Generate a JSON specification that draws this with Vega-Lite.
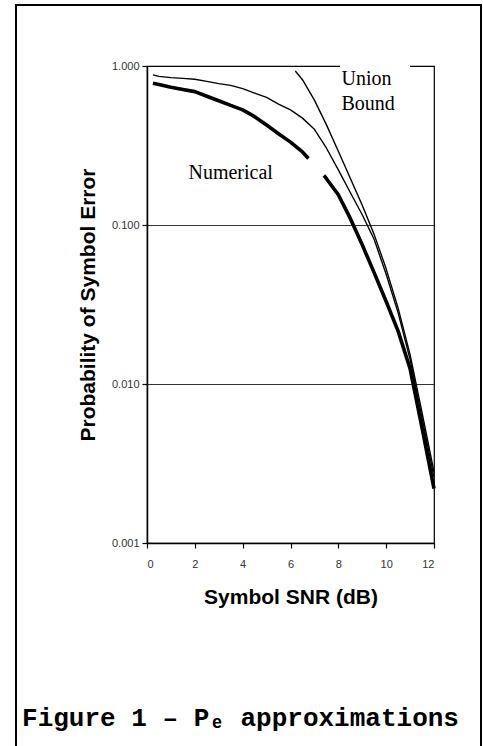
{
  "$schema": "https://vega.github.io/schema/vega-lite/v6.json",
  "autosize": {"type": "none"},
  "width": 287,
  "height": 477,
  "padding": {"left": 147, "top": 66, "right": 49, "bottom": 203},
  "background": "white",
  "title": {
    "text": "Figure 1 – Pₑ approximations",
    "orient": "bottom",
    "anchor": "middle",
    "frame": "group",
    "dx": -50,
    "offset": -46,
    "font": "Liberation Mono",
    "fontSize": 26,
    "fontWeight": "bold",
    "color": "black"
  },
  "config": {
    "view": {"stroke": "black", "strokeWidth": 1.2},
    "font": "Liberation Sans",
    "axis": {
      "labelFont": "Liberation Sans",
      "labelFontSize": 11,
      "labelColor": "#333",
      "titleFont": "Liberation Sans",
      "titleFontWeight": "bold",
      "titleColor": "black",
      "domainColor": "black",
      "domainWidth": 1.5,
      "tickColor": "black",
      "tickSize": 5,
      "tickWidth": 1.2
    }
  },
  "datasets": {
    "curves": [
      {"snr": 0.25, "pe": 0.78, "series": "Numerical"},
      {"snr": 0.5, "pe": 0.765, "series": "Numerical"},
      {"snr": 1.0, "pe": 0.735, "series": "Numerical"},
      {"snr": 1.5, "pe": 0.712, "series": "Numerical"},
      {"snr": 2.0, "pe": 0.69, "series": "Numerical"},
      {"snr": 2.5, "pe": 0.645, "series": "Numerical"},
      {"snr": 3.0, "pe": 0.605, "series": "Numerical"},
      {"snr": 3.5, "pe": 0.565, "series": "Numerical"},
      {"snr": 4.0, "pe": 0.53, "series": "Numerical"},
      {"snr": 4.5, "pe": 0.48, "series": "Numerical"},
      {"snr": 5.0, "pe": 0.425, "series": "Numerical"},
      {"snr": 5.5, "pe": 0.375, "series": "Numerical"},
      {"snr": 6.0, "pe": 0.332, "series": "Numerical"},
      {"snr": 6.5, "pe": 0.288, "series": "Numerical"},
      {"snr": 6.75, "pe": 0.262, "series": "Numerical"},
      {"snr": 7.0, "pe": null, "series": "Numerical"},
      {"snr": 7.4, "pe": 0.205, "series": "Numerical"},
      {"snr": 8.0, "pe": 0.155, "series": "Numerical"},
      {"snr": 8.5, "pe": 0.11, "series": "Numerical"},
      {"snr": 9.0, "pe": 0.075, "series": "Numerical"},
      {"snr": 9.5, "pe": 0.05, "series": "Numerical"},
      {"snr": 10.0, "pe": 0.033, "series": "Numerical"},
      {"snr": 10.5, "pe": 0.0215, "series": "Numerical"},
      {"snr": 11.0, "pe": 0.0125, "series": "Numerical"},
      {"snr": 11.5, "pe": 0.0053, "series": "Numerical"},
      {"snr": 12.0, "pe": 0.0022, "series": "Numerical"},

      {"snr": 0.25, "pe": 0.88, "series": "Approximation"},
      {"snr": 0.5, "pe": 0.86, "series": "Approximation"},
      {"snr": 1.0, "pe": 0.845, "series": "Approximation"},
      {"snr": 1.5, "pe": 0.836, "series": "Approximation"},
      {"snr": 2.0, "pe": 0.825, "series": "Approximation"},
      {"snr": 2.5, "pe": 0.8, "series": "Approximation"},
      {"snr": 3.0, "pe": 0.775, "series": "Approximation"},
      {"snr": 3.5, "pe": 0.755, "series": "Approximation"},
      {"snr": 4.0, "pe": 0.72, "series": "Approximation"},
      {"snr": 4.5, "pe": 0.675, "series": "Approximation"},
      {"snr": 5.0, "pe": 0.635, "series": "Approximation"},
      {"snr": 5.5, "pe": 0.575, "series": "Approximation"},
      {"snr": 6.0, "pe": 0.53, "series": "Approximation"},
      {"snr": 6.5, "pe": 0.47, "series": "Approximation"},
      {"snr": 7.0, "pe": 0.4, "series": "Approximation"},
      {"snr": 7.5, "pe": 0.305, "series": "Approximation"},
      {"snr": 8.0, "pe": 0.222, "series": "Approximation"},
      {"snr": 8.5, "pe": 0.16, "series": "Approximation"},
      {"snr": 9.0, "pe": 0.116, "series": "Approximation"},
      {"snr": 9.5, "pe": 0.081, "series": "Approximation"},
      {"snr": 10.0, "pe": 0.049, "series": "Approximation"},
      {"snr": 10.5, "pe": 0.028, "series": "Approximation"},
      {"snr": 11.0, "pe": 0.0143, "series": "Approximation"},
      {"snr": 11.5, "pe": 0.0061, "series": "Approximation"},
      {"snr": 12.0, "pe": 0.0026, "series": "Approximation"},

      {"snr": 6.2, "pe": 0.93, "series": "Union Bound"},
      {"snr": 6.5, "pe": 0.82, "series": "Union Bound"},
      {"snr": 7.0, "pe": 0.61, "series": "Union Bound"},
      {"snr": 7.5, "pe": 0.428, "series": "Union Bound"},
      {"snr": 8.0, "pe": 0.291, "series": "Union Bound"},
      {"snr": 8.5, "pe": 0.197, "series": "Union Bound"},
      {"snr": 9.0, "pe": 0.133, "series": "Union Bound"},
      {"snr": 9.5, "pe": 0.087, "series": "Union Bound"},
      {"snr": 10.0, "pe": 0.053, "series": "Union Bound"},
      {"snr": 10.5, "pe": 0.03, "series": "Union Bound"},
      {"snr": 11.0, "pe": 0.0153, "series": "Union Bound"},
      {"snr": 11.5, "pe": 0.0066, "series": "Union Bound"},
      {"snr": 12.0, "pe": 0.0028, "series": "Union Bound"}
    ],
    "labels": [
      {"snr": 1.735, "pe": 0.1946, "text": ["Numerical"]},
      {"snr": 8.13, "pe": 0.76, "text": ["Union", "Bound"]}
    ]
  },
  "layer": [
    {
      "description": "outer figure frame",
      "data": {"values": [{"x0": -5.477, "x1": 13.965, "y0": 2.419, "y1": 0.00005}]},
      "mark": {"type": "rect", "fill": null, "stroke": "black", "strokeWidth": 2, "clip": false},
      "encoding": {
        "x": {"field": "x0", "type": "quantitative", "scale": {"domain": [0, 12], "nice": false, "zero": false}},
        "x2": {"field": "x1"},
        "y": {"field": "y0", "type": "quantitative", "scale": {"type": "log", "domain": [0.001, 1], "nice": false}},
        "y2": {"field": "y1"}
      }
    },
    {
      "data": {"name": "curves"},
      "mark": {"type": "line", "invalid": "break-paths-filter-domains", "strokeJoin": "round", "strokeCap": "butt"},
      "encoding": {
        "x": {
          "field": "snr", "type": "quantitative",
          "scale": {"domain": [0, 12], "nice": false, "zero": false},
          "axis": {
            "title": "Symbol SNR (dB)",
            "values": [0, 2, 4, 6, 8, 10, 12],
            "grid": false,
            "titleFontSize": 21,
            "titlePadding": 17,
            "labelPadding": 10
          }
        },
        "y": {
          "field": "pe", "type": "quantitative",
          "scale": {"type": "log", "domain": [0.001, 1], "nice": false},
          "axis": {
            "title": "Probability of Symbol Error",
            "values": [0.001, 0.01, 0.1, 1],
            "format": ".3f",
            "grid": true,
            "gridColor": "#333",
            "gridWidth": 1,
            "gridOpacity": {"condition": {"test": "datum.value > 0.005 && datum.value < 0.5", "value": 1}, "value": 0},
            "titleFontSize": 21,
            "titlePadding": 13,
            "labelPadding": 3
          }
        },
        "detail": {"field": "series", "type": "nominal"},
        "color": {"value": "black"},
        "strokeWidth": {"condition": {"test": "datum.series === 'Numerical'", "value": 3.6}, "value": 1.4}
      }
    },
    {
      "description": "white box behind the Union Bound label",
      "data": {"values": [{"x0": 8.07, "x1": 11.0, "y0": 1.25, "y1": 0.55}]},
      "mark": {"type": "rect", "fill": "white", "stroke": null, "clip": false},
      "encoding": {
        "x": {"field": "x0", "type": "quantitative"},
        "x2": {"field": "x1"},
        "y": {"field": "y0", "type": "quantitative"},
        "y2": {"field": "y1"}
      }
    },
    {
      "data": {"name": "labels"},
      "mark": {"type": "text", "font": "Liberation Serif", "fontSize": 20, "align": "left", "baseline": "alphabetic", "lineHeight": 25, "color": "black", "clip": false},
      "encoding": {
        "x": {"field": "snr", "type": "quantitative"},
        "y": {"field": "pe", "type": "quantitative"},
        "text": {"field": "text"}
      }
    }
  ]
}
